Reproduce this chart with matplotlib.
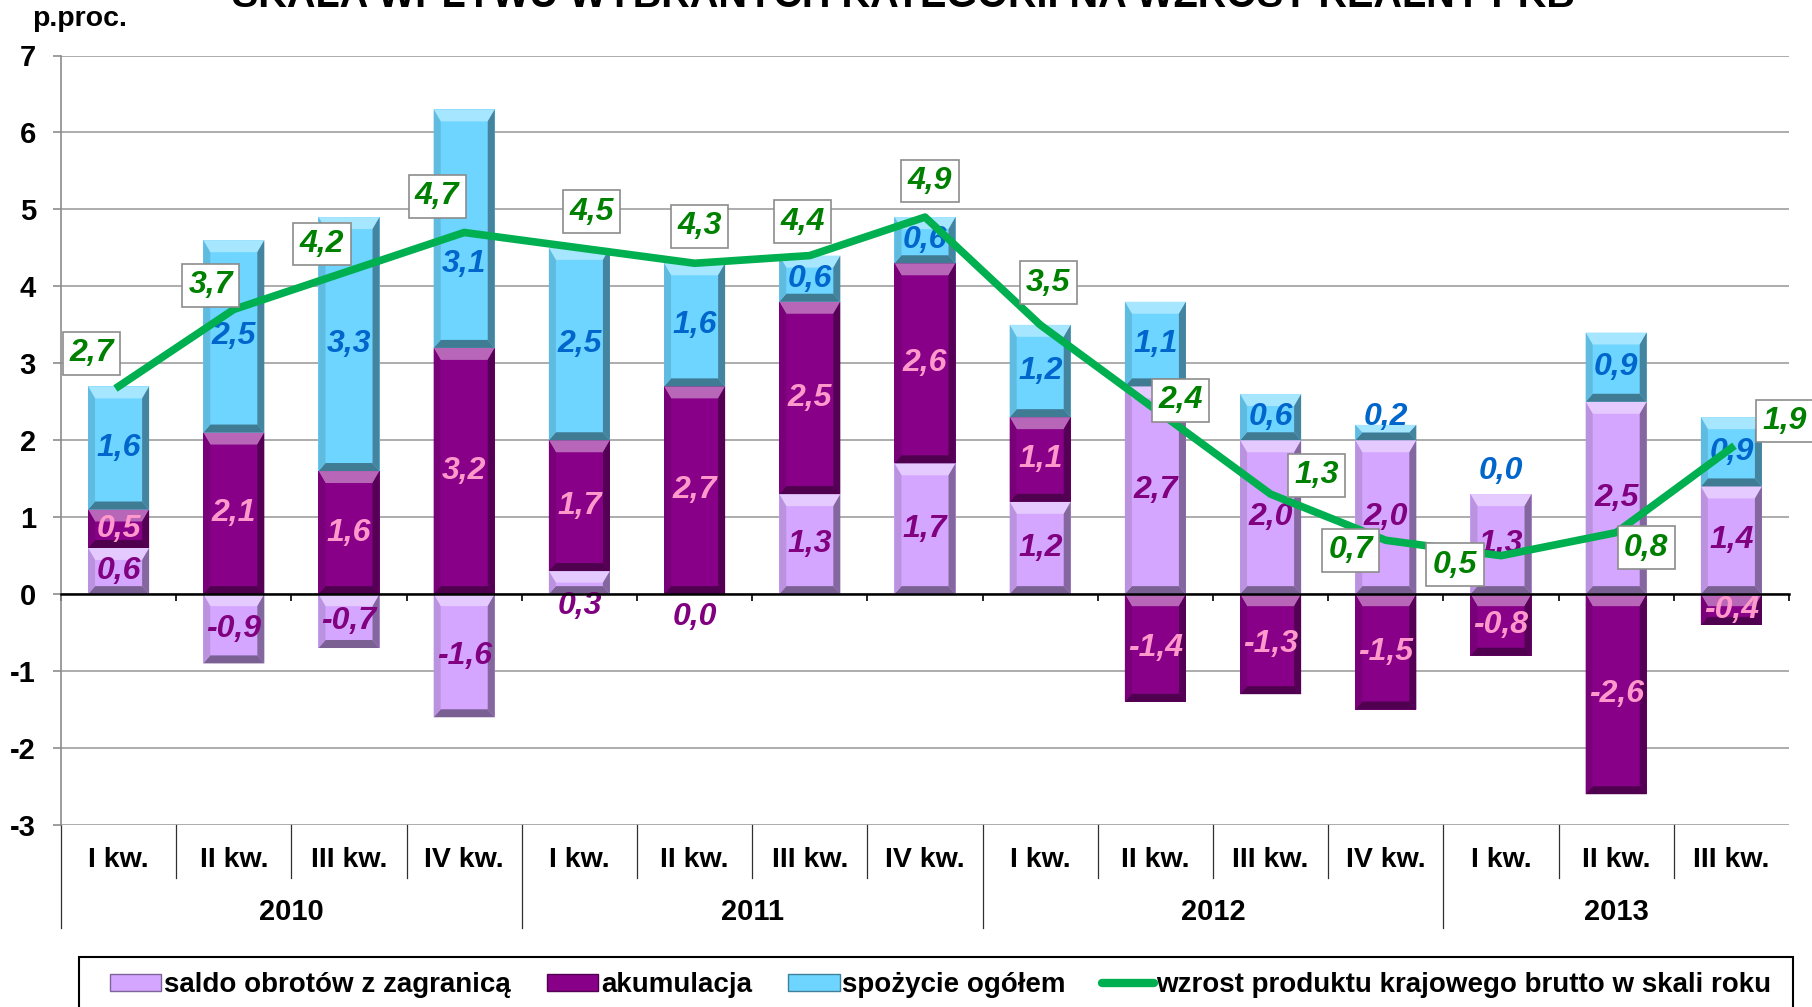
import numpy as np
import matplotlib
matplotlib.use('Agg')
import matplotlib.pyplot as plt
from matplotlib.patches import Polygon, Patch, Rectangle
from matplotlib.lines import Line2D
from matplotlib.colors import to_rgb

plt.rcParams['font.family'] = ['Liberation Sans', 'DejaVu Sans']
plt.rcParams['font.weight'] = 'bold'
plt.rcParams['axes.unicode_minus'] = False

# --- data ---
quarters = ['I kw.', 'II kw.', 'III kw.', 'IV kw.',
            'I kw.', 'II kw.', 'III kw.', 'IV kw.',
            'I kw.', 'II kw.', 'III kw.', 'IV kw.',
            'I kw.', 'II kw.', 'III kw.']
years = ['2010', '2011', '2012', '2013']
year_len = [4, 4, 4, 3]

saldo = [0.6, -0.9, -0.7, -1.6, 0.3, 0.0, 1.3, 1.7, 1.2, 2.7, 2.0, 2.0, 1.3, 2.5, 1.4]
akumulacja = [0.5, 2.1, 1.6, 3.2, 1.7, 2.7, 2.5, 2.6, 1.1, -1.4, -1.3, -1.5, -0.8, -2.6, -0.4]
spozycie = [1.6, 2.5, 3.3, 3.1, 2.5, 1.6, 0.6, 0.6, 1.2, 1.1, 0.6, 0.2, 0.0, 0.9, 0.9]
pkb = [2.7, 3.7, 4.2, 4.7, 4.5, 4.3, 4.4, 4.9, 3.5, 2.4, 1.3, 0.7, 0.5, 0.8, 1.9]

names = ['saldo obrotów z zagranicą', 'akumulacja', 'spożycie ogółem',
         'wzrost produktu krajowego brutto w skali roku']
title = 'SKALA WPŁYWU WYBRANYCH KATEGORII NA WZROST REALNY PKB'

# label offsets for the GDP boxes (pixels, right / down)
pkb_offsets = [(-27, -33), (-23, -24), (-27, -27), (-27, -36), (12, -36),
               (5, -37), (-7, -34), (5, -36), (8, -42), (25, -9),
               (46, -19), (-35, 10), (-46, 9), (30, 15), (53, -27)]
# bar labels that were moved by hand in the original (series, quarter) -> shift
label_shift = {(2, 3): -0.46}

bar_colors = ['#D4A6FF', '#880088', '#6DD5FF']
label_colors = ['#800080', '#FF99CC', '#0066CC']
green = '#00B050'
green_txt = '#008000'


def fmt(v):
    return ('%.1f' % v).replace('.', ',')


def mix(c, other, t):
    c = np.array(to_rgb(c))
    o = np.array(to_rgb(other))
    return tuple(c * (1 - t) + o * t)


W, H = 1812.0, 1007.0
L, R, T, B = 61, 1789, 55.5, 825
fig = plt.figure(figsize=(W / 100, H / 100), dpi=100)
ax = fig.add_axes([L / W, 1 - B / H, (R - L) / W, (B - T) / H])
n = len(quarters)
x = np.arange(n)
ax.set_xlim(-0.5, n - 0.5)
ax.set_ylim(-3, 7)
sx = (R - L) / n      # px per category
sy = (B - T) / 10.0   # px per unit


def bevel(rect, color):
    x0 = rect.get_x()
    x1 = x0 + rect.get_width()
    y0 = min(rect.get_y(), rect.get_y() + rect.get_height())
    y1 = max(rect.get_y(), rect.get_y() + rect.get_height())
    if y1 - y0 <= 0:
        return
    bx = min(7 / sx, (x1 - x0) / 2)
    bt = min(12 / sy, (y1 - y0) / 2)
    bb = min(8 / sy, (y1 - y0) / 2)
    polys = [
        ([(x0, y1), (x1, y1), (x1 - bx, y1 - bt), (x0 + bx, y1 - bt)], mix(color, 'white', 0.4)),
        ([(x0, y0), (x1, y0), (x1 - bx, y0 + bb), (x0 + bx, y0 + bb)], mix(color, 'black', 0.42)),
        ([(x0, y0), (x0 + bx, y0 + bb), (x0 + bx, y1 - bt), (x0, y1)], mix(color, 'black', 0.12)),
        ([(x1, y0), (x1 - bx, y0 + bb), (x1 - bx, y1 - bt), (x1, y1)], mix(color, 'black', 0.38)),
    ]
    for pts, c in polys:
        ax.add_patch(Polygon(pts, closed=True, facecolor=c, edgecolor='none', zorder=2.1))


series = [saldo, akumulacja, spozycie]
pos_base = np.zeros(n)
neg_base = np.zeros(n)
for k, vals in enumerate(series):
    v = np.array(vals)
    bottom = np.where(v >= 0, pos_base, neg_base)
    bars = ax.bar(x, v, 0.53, bottom=bottom, color=bar_colors[k], zorder=2)
    for rect in bars:
        bevel(rect, bar_colors[k])
    for i in range(n):
        y = bottom[i] + v[i] / 2
        if k == 0 and 0 <= v[i] < 0.35:
            y = v[i] / 2 - 0.3
        if k == 2 and v[i] < 0.35:
            y = bottom[i] + 0.3
        y += label_shift.get((k, i), 0)
        ax.text(i, y, fmt(v[i]), ha='center', va='center', fontsize=23,
                style='italic', color=label_colors[k], zorder=3)
    pos_base = pos_base + np.where(v >= 0, v, 0)
    neg_base = neg_base + np.where(v < 0, v, 0)

ax.plot(x, pkb, color=green, lw=5.5, zorder=4, solid_joinstyle='round')
for i, v in enumerate(pkb):
    dx, dy = pkb_offsets[i]
    ax.annotate(fmt(v), (i, v), xytext=(dx, -dy), textcoords='offset pixels',
                ha='center', va='center', fontsize=23, style='italic', color=green_txt,
                bbox=dict(boxstyle='square,pad=0.2', fc='white', ec='#8C8C8C', lw=1.2),
                zorder=6, annotation_clip=False)

# axes styling
ax.set_yticks(range(-3, 8))
ax.yaxis.grid(True, color='#A6A6A6', lw=1.3)
ax.set_axisbelow(True)
for s in ['top', 'right']:
    ax.spines[s].set_visible(False)
ax.spines['left'].set_color('#8C8C8C')
ax.spines['left'].set_linewidth(1.2)
ax.spines['bottom'].set_position(('data', 0))
ax.spines['bottom'].set_color('black')
ax.spines['bottom'].set_linewidth(1.8)
ax.spines['bottom'].set_zorder(3.5)
ax.set_xticks(np.arange(-0.5, n, 1))
ax.set_xticklabels([])
ax.tick_params(axis='x', direction='out', length=5, width=1.2, color='black')
ax.tick_params(axis='y', direction='out', length=6, width=1.2, color='#8C8C8C',
               pad=12, labelsize=21)

# multi-level category labels below the plot
tr = ax.get_xaxis_transform()


def ay(px):
    return -(px - B) / (B - T)


for i, q in enumerate(quarters):
    ax.text(i, ay(860), q, transform=tr, ha='center', va='center', fontsize=20.5)
start = 0
for yname, cnt in zip(years, year_len):
    ax.text(start + (cnt - 1) / 2.0, ay(912), yname, transform=tr,
            ha='center', va='center', fontsize=21)
    ax.plot([start - 0.5] * 2, [0, ay(928)], transform=tr, clip_on=False,
            color='#303030', lw=0.9)
    for j in range(1, cnt):
        ax.plot([start + j - 0.5] * 2, [0, ay(878)], transform=tr, clip_on=False,
                color='#303030', lw=0.9)
    start += cnt

fig.text(32 / W, 1 - 26.5 / H, 'p.proc.', ha='left', va='baseline', fontsize=20.5)
fig.text(903 / W, 1 - 7 / H, title, ha='center', va='baseline', fontsize=28.5)

# legend: frame drawn separately so that it runs off the bottom edge like the original
fig.patches.append(Rectangle((79 / W, -0.05), (1793 - 79) / W, 0.05 + 1 - 957 / H,
                             transform=fig.transFigure, facecolor='white',
                             edgecolor='black', lw=1.5, zorder=0))
handles = [Patch(facecolor=bar_colors[0], edgecolor=mix(bar_colors[0], 'black', 0.4)),
           Patch(facecolor=bar_colors[1], edgecolor=mix(bar_colors[1], 'black', 0.4)),
           Patch(facecolor=bar_colors[2], edgecolor=mix(bar_colors[2], 'black', 0.4)),
           Line2D([], [], color=green, lw=6, solid_capstyle='round')]
leg = fig.legend(handles, names, loc='upper left',
                 bbox_to_anchor=(97 / W, 1 - 960 / H - 0.05, (1784 - 97) / W, 0.05),
                 mode='expand', ncol=4, fontsize=20, handlelength=1.85, handleheight=0.55,
                 handletextpad=0.1, borderaxespad=0, borderpad=0.45, frameon=False)

fig.savefig('out.png', dpi=100)
